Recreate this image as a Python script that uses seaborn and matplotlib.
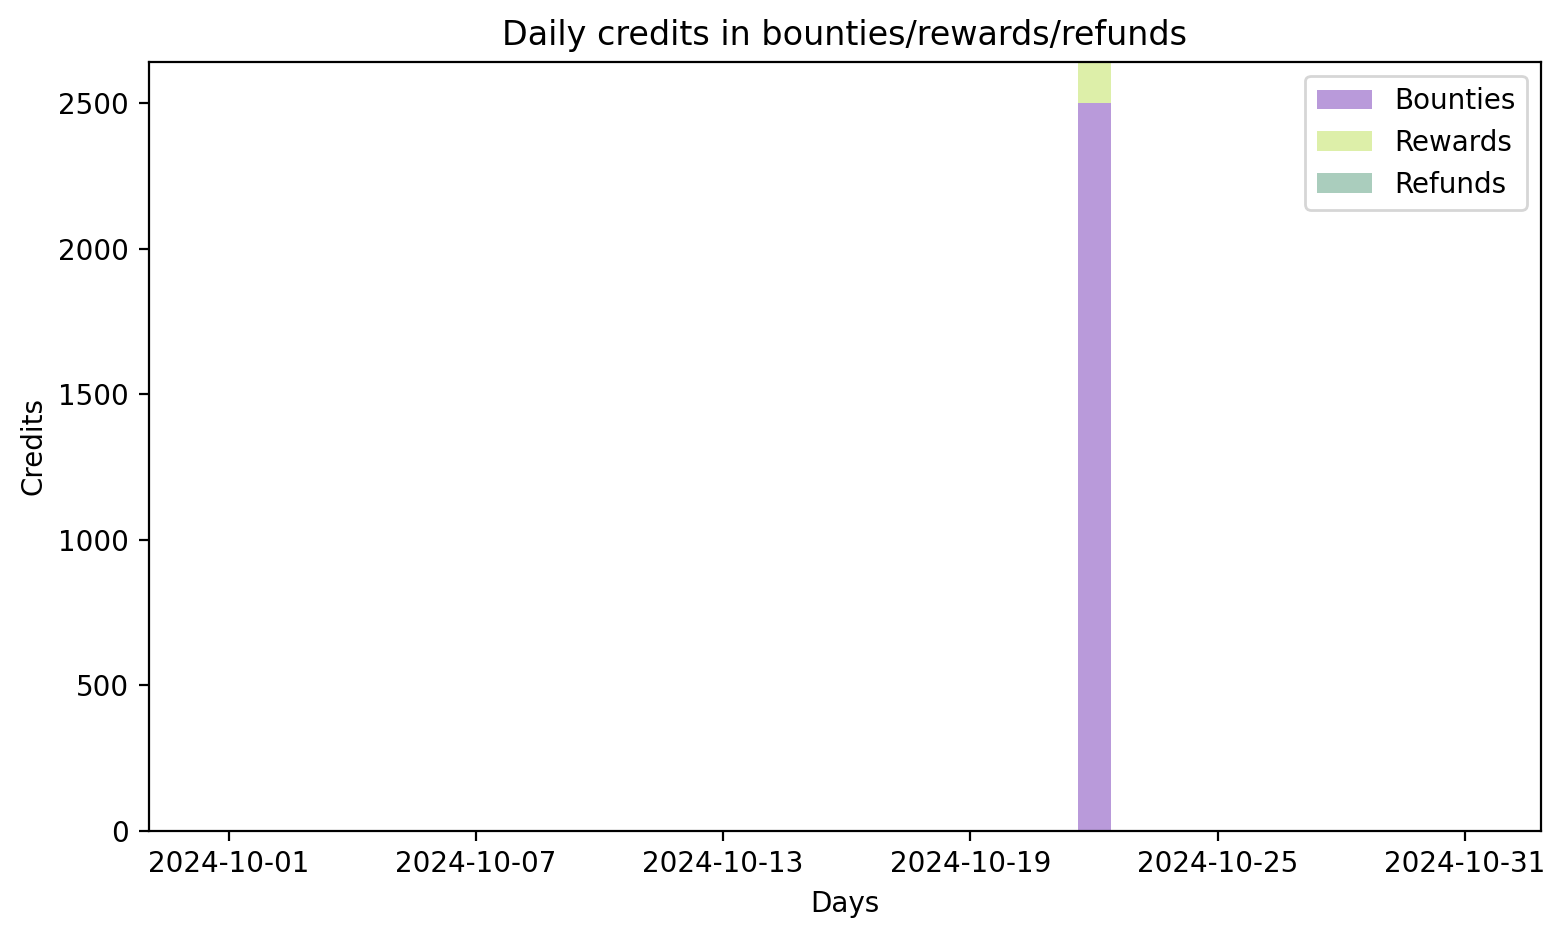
import numpy as np
import pandas as pd
import matplotlib
matplotlib.use("Agg")
import matplotlib.pyplot as plt
import matplotlib.dates as mdates
from matplotlib.patches import Patch
import seaborn as sns

# daily credits for October 2024
days = pd.date_range("2024-10-01", "2024-10-31", freq="D")
bounties = [0] * 21 + [2500] + [0] * 9
rewards = [0] * 21 + [500] + [0] * 9
refunds = [0] * 31
tick_days = ["2024-10-01", "2024-10-07", "2024-10-13", "2024-10-19", "2024-10-25", "2024-10-31"]

series_names = ["Bounties", "Rewards", "Refunds"]
colors = ["#b99ada", "#ddefa9", "#aacdbd"]

df = pd.DataFrame({
    "day": mdates.date2num(days),
    "Bounties": bounties,
    "Rewards": rewards,
    "Refunds": refunds,
})
df["bot_rew"] = df["Bounties"] + df["Rewards"]
df["total"] = df["bot_rew"] + df["Refunds"]

plt.rcParams["font.family"] = ["DejaVu Sans"]

fig, ax = plt.subplots(figsize=(7.825, 4.695), dpi=200)
fig.subplots_adjust(left=0.095, right=0.9845, top=0.934, bottom=0.115)

# stacked bars: draw cumulative totals from top layer down
for col, c in [("total", colors[2]), ("bot_rew", colors[1]), ("Bounties", colors[0])]:
    sns.barplot(data=df, x="day", y=col, color=c, native_scale=True,
                width=0.8, saturation=1, ax=ax, errorbar=None, linewidth=0)

ax.set_xticks(mdates.date2num(pd.to_datetime(tick_days)))
ax.xaxis.set_major_formatter(mdates.DateFormatter("%Y-%m-%d"))
ax.set_xlim(df["day"].iloc[0] - 1.94, df["day"].iloc[-1] + 1.84)
ax.set_ylim(0, 2641)

ax.set_title("Daily credits in bounties/rewards/refunds", fontsize=12)
ax.set_xlabel("Days", fontsize=10)
ax.set_ylabel("Credits", fontsize=10)

handles = [Patch(facecolor=c, label=n) for c, n in zip(colors, series_names)]
ax.legend(handles=handles, loc="upper right", fontsize=10)

fig.savefig("out.png", dpi=200)
